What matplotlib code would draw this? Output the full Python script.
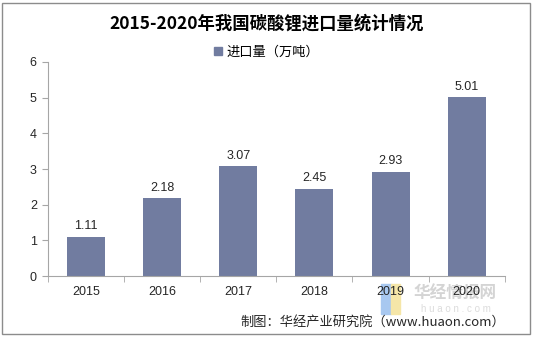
import matplotlib.pyplot as plt
import matplotlib.patches as mpatches

plt.rcParams['font.family'] = ['Liberation Sans', 'Noto Sans CJK SC', 'DejaVu Sans']

years = ["2015", "2016", "2017", "2018", "2019", "2020"]
imports = [1.11, 2.18, 3.07, 2.45, 2.93, 5.01]

bar_color = '#717ca0'
axis_color = '#a6a6a6'

fig = plt.figure(figsize=(5.33, 3.38), dpi=100)
ax = fig.add_axes([0.090, 0.183, 0.857, 0.634])

x = range(len(years))
ax.bar(x, imports, width=0.5, color=bar_color, zorder=2)
for xi, v in zip(x, imports):
    ax.text(xi, v + 0.12, f"{v:.2f}", ha='center', va='bottom', fontsize=9, color='#262626')

ax.set_xlim(-0.5, len(years) - 0.5)
ax.set_ylim(0, 6)
ax.set_yticks(range(0, 7))
ax.set_xticks(x)
ax.set_xticklabels(years)
ax.set_xticks([i - 0.5 for i in range(len(years) + 1)], minor=True)
ax.tick_params(axis='x', which='major', length=0, labelsize=9, colors='#262626', pad=7)
ax.tick_params(axis='x', which='minor', length=4, color=axis_color)
ax.tick_params(axis='y', length=4, color=axis_color, labelsize=9, labelcolor='#262626', pad=4)
for s in ['top', 'right']:
    ax.spines[s].set_visible(False)
for s in ['left', 'bottom']:
    ax.spines[s].set_color(axis_color)

fig.text(0.5, 0.929, "2015-2020年我国碳酸锂进口量统计情况", ha='center', va='center',
         fontsize=12.5, fontweight='bold', family=['Noto Sans CJK SC'])

handle = mpatches.Patch(color=bar_color)
fig.legend([handle], ["进口量（万吨）"], loc='center', bbox_to_anchor=(0.5, 0.846),
           frameon=False, handlelength=0.6, handleheight=0.6, handletextpad=0.3,
           prop={'family': ['Noto Sans CJK SC'], 'size': 9.5})

# watermark, drawn beneath the axes
fig.text(0.775, 0.13, "华经情报网", ha='left', va='center', fontsize=12, fontweight='bold',
         color='#d4d4d4', family=['Noto Sans CJK SC'], zorder=-2)
fig.text(0.79, 0.085, "h u a o n . c o m", ha='left', va='center', fontsize=7,
         color='#dcdcdc', zorder=-2)
fig.patches.append(mpatches.Rectangle((0.715, 0.07), 0.018, 0.09, transform=fig.transFigure,
                                      color='#a8c8f0', zorder=-2))
fig.patches.append(mpatches.Rectangle((0.733, 0.07), 0.018, 0.09, transform=fig.transFigure,
                                      color='#f5e6a8', zorder=-2))
ax.patch.set_alpha(0)

fig.text(0.947, 0.047, "制图：华经产业研究院（www.huaon.com）", ha='right', va='center',
         fontsize=9.5, color='#262626', family=['Noto Sans CJK SC'])

fig.patches.append(mpatches.Rectangle((0.004, 0.012), 0.990, 0.980, transform=fig.transFigure,
                                      fill=False, edgecolor='#8c8c8c', linewidth=1))

fig.savefig("out.png", dpi=100)
